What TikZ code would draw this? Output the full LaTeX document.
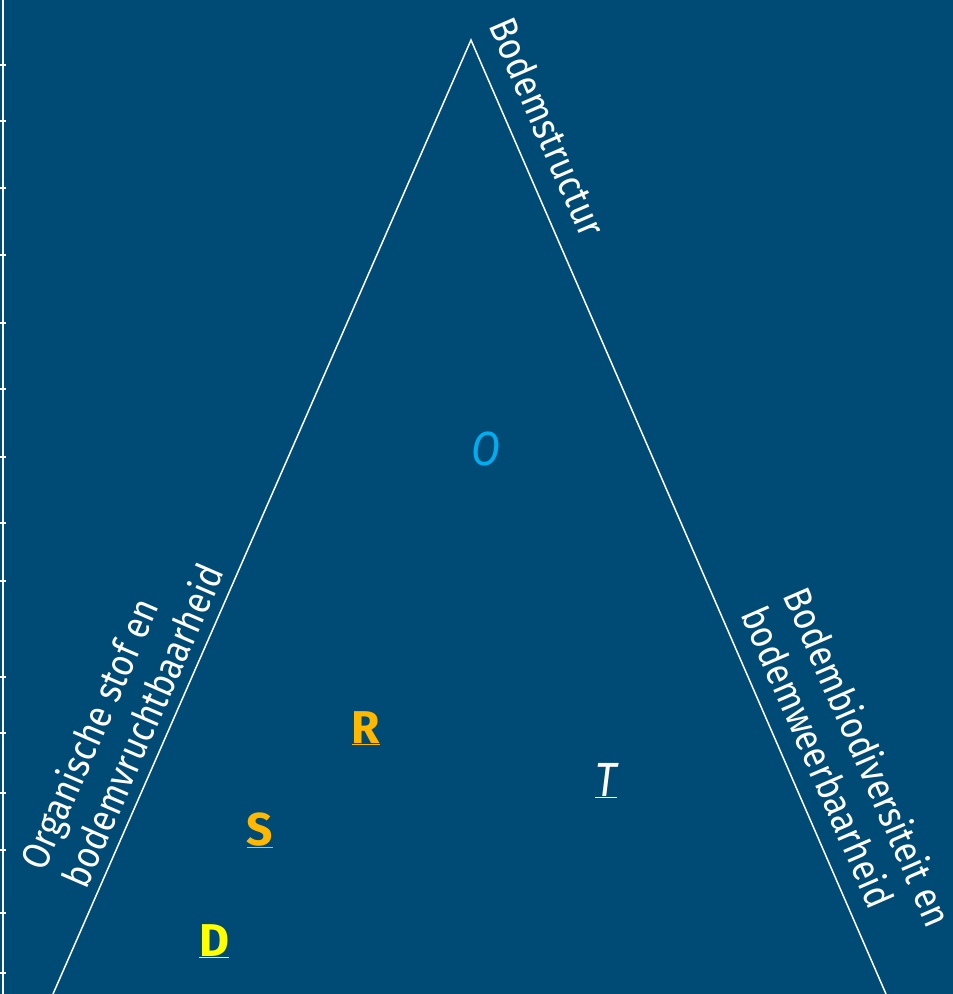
\documentclass[tikz,border=0pt]{standalone}
\usepackage{fontspec}
\setmainfont{Fira Sans}
\newfontfamily\labelfont{Fira Sans}[FakeStretch=0.88]
\definecolor{bodemblauw}{RGB}{0,75,118}
\definecolor{bodemcyaan}{RGB}{0,174,239}
\definecolor{bodemoranje}{RGB}{255,184,0}
\definecolor{bodemgeel}{RGB}{255,255,0}
\tikzset{
  axislabel/.style={text=white, align=left, inner sep=0pt, font=\labelfont\fontsize{39}{46}\selectfont},
  letter/.style={inner sep=0pt, anchor=base, font=\fontsize{46}{46}\selectfont\bfseries},
  italicletter/.style={inner sep=0pt, anchor=base, font=\labelfont\fontsize{48}{48}\selectfont\itshape},
}
\begin{document}
\begin{tikzpicture}[x=1pt,y=-1pt]
            \fill[bodemblauw] (0,0) rectangle (953,994);
            \useasboundingbox (0,0) rectangle (953,994);
            \draw[white,line width=1.5pt] (3,0) -- (3,994);
            \foreach \y in {65,121,188,255,323,389,457,523,581,677,733,793,850,913,973}
              \draw[white,line width=1.5pt] (0,\y) -- (6,\y);
            \coordinate (top) at (471,40);
            \coordinate (left) at (53,994);
            \coordinate (right) at (886,994);
            \draw[white,line width=1.5pt] (left) -- (top) -- (right);
            \node[axislabel,rotate=-66.5] (structuur) at (548,127) {Bodemstructur};
            \node[axislabel,rotate=66.5] (organisch) at (121,716) {Organische stof en\\bodemvruchtbaarheid};
            \node[axislabel,rotate=-66.5] (biodiv) at (848,766) {Bodembiodiversiteit en\\bodemweerbaarheid};
            \node[italicletter,text=bodemcyaan] (o) at (486,465) {O};
            \node[letter,text=bodemoranje] (r) at (366,743) {\underline{R}};
            \node[letter,text=bodemoranje] (s) at (260,845) {\underline{S}};
            \node[letter,text=bodemgeel] (d) at (214,956) {\underline{D}};
            \node[italicletter,text=white] (t) at (606,796) {\underline{T}};
\end{tikzpicture}
\end{document}
